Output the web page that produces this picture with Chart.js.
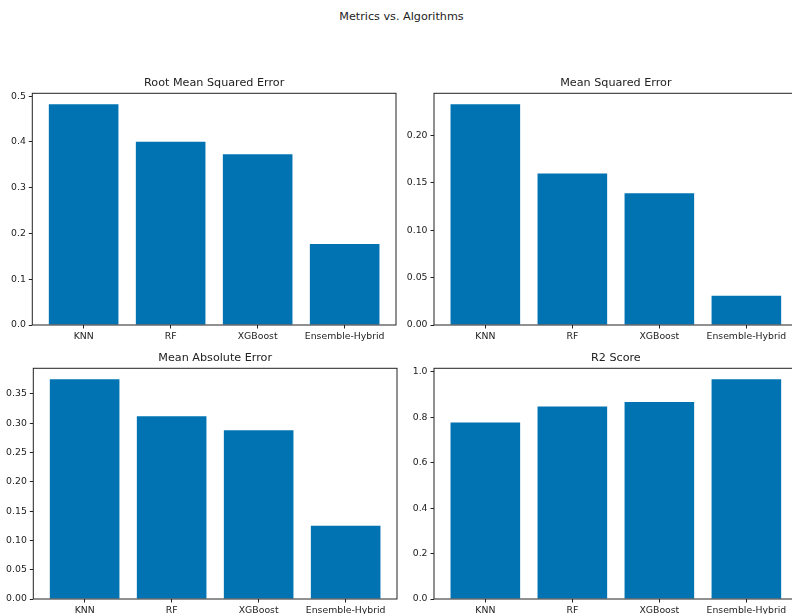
<!DOCTYPE html>
<html>
<head>
<meta charset="utf-8">
<script src="https://cdn.jsdelivr.net/npm/chart.js@4.4.1/dist/chart.umd.min.js"></script>
<style>
  html, body { margin: 0; padding: 0; background: #fff; overflow: hidden; width: 792px; height: 614px; }
  .panel { position: absolute; }
  #suptitle { position: absolute; top: 9.5px; left: 0; width: 803px; line-height: 14px;
              text-align: center; font: 11.2px "DejaVu Sans"; color: #222; }
</style>
</head>
<body>
<div id="suptitle">Metrics vs. Algorithms</div>
<canvas id="rmse" class="panel" width="400" height="280" style="left:0;top:67px"></canvas>
<canvas id="mse" class="panel" width="400" height="280" style="left:400px;top:67px"></canvas>
<canvas id="mae" class="panel" width="400" height="279" style="left:0;top:341.7px"></canvas>
<canvas id="r2" class="panel" width="400" height="279" style="left:400px;top:341.7px"></canvas>
<script>
// values
const algorithms = ['KNN', 'RF', 'XGBoost', 'Ensemble-Hybrid'];
const rmseValues = [0.482, 0.400, 0.373, 0.177];
const mseValues = [0.233, 0.160, 0.139, 0.031];
const maeValues = [0.375, 0.312, 0.288, 0.125];
const r2Values = [0.777, 0.847, 0.867, 0.967];

const rmseTicks = [0, 0.1, 0.2, 0.3, 0.4, 0.5];
const mseTicks = [0, 0.05, 0.10, 0.15, 0.20];
const maeTicks = [0, 0.05, 0.10, 0.15, 0.20, 0.25, 0.30, 0.35];
const r2Ticks = [0, 0.2, 0.4, 0.6, 0.8, 1.0];

const barColor = '#0173b2';
const ink = '#222';
const font = 'DejaVu Sans';

// matplotlib-style box around the axes, title centred over the axes
const frame = {
    id: 'frame',
    afterDraw(chart, args, opts) {
        const { ctx, chartArea: a } = chart;
        ctx.save();
        ctx.strokeStyle = ink;
        ctx.lineWidth = 1;
        ctx.strokeRect(a.left, a.top, a.right - a.left, a.bottom - a.top);
        ctx.fillStyle = ink;
        ctx.font = '11.2px "DejaVu Sans"';
        ctx.textAlign = 'center';
        ctx.textBaseline = 'middle';
        ctx.fillText(opts.text, (a.left + a.right) / 2, a.top - 10);
        ctx.restore();
    }
};

function makePanel(id, title, values, ticks, decimals, axisWidth, padRight) {
    const points = values.map((v, i) => ({ x: i, y: v }));
    return new Chart(document.getElementById(id), {
        type: 'bar',
        data: {
            datasets: [{
                label: title,
                data: points,
                backgroundColor: barColor,
                borderWidth: 0,
                categoryPercentage: 1,
                barPercentage: 0.8,
            }]
        },
        options: {
            responsive: false,
            animation: false,
            layout: { padding: { left: 0, right: padRight, top: 26.3, bottom: 0 } },
            plugins: {
                legend: { display: false },
                tooltip: { enabled: false },
                title: { display: false },
                frame: { text: title }
            },
            scales: {
                x: {
                    type: 'linear',
                    offset: false,
                    min: -0.59,
                    max: algorithms.length - 1 + 0.59,
                    afterBuildTicks: (scale) => {
                        scale.ticks = algorithms.map((_, i) => ({ value: i }));
                    },
                    afterFit: (scale) => { scale.height = 22; },
                    ticks: {
                        autoSkip: false,
                        maxRotation: 0,
                        padding: 2.5,
                        color: ink,
                        font: { family: font, size: 9.3 },
                        callback: (v) => algorithms[v]
                    },
                    grid: { offset: false, drawOnChartArea: false, drawTicks: true, tickLength: 3.5, color: ink },
                    border: { display: false }
                },
                y: {
                    min: 0,
                    max: Math.max(...values) * 1.05,
                    afterBuildTicks: (scale) => {
                        scale.ticks = ticks.map(t => ({ value: t }));
                    },
                    afterFit: (scale) => { scale.width = axisWidth; },
                    ticks: {
                        padding: 3,
                        color: ink,
                        font: { family: font, size: 9.3 },
                        callback: (v) => Number(v).toFixed(decimals)
                    },
                    grid: { drawOnChartArea: false, drawTicks: true, tickLength: 3.5, color: ink },
                    border: { display: false }
                }
            }
        },
        plugins: [frame]
    });
}

makePanel('rmse', 'Root Mean Squared Error', rmseValues, rmseTicks, 1, 32.3, 4);
makePanel('mse', 'Mean Squared Error', mseValues, mseTicks, 2, 34, 2.3);
makePanel('mae', 'Mean Absolute Error', maeValues, maeTicks, 2, 33.3, 3);
makePanel('r2', 'R2 Score', r2Values, r2Ticks, 1, 34, 2.3);
</script>
</body>
</html>
